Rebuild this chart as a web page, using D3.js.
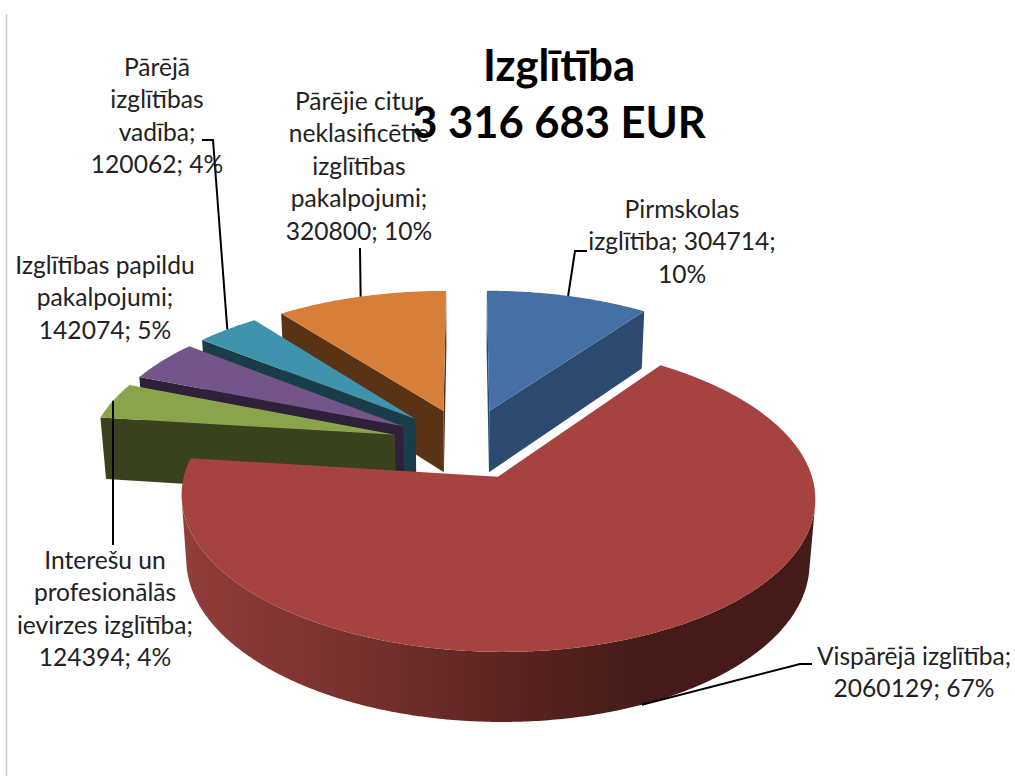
<!DOCTYPE html>
<html>
<head>
<meta charset="utf-8">
<script src="https://cdnjs.cloudflare.com/ajax/libs/d3/7.8.5/d3.min.js"></script>
<style>
  html, body { margin: 0; padding: 0; background: #fff; }
  svg { display: block; }
  text { font-family: Lato, "Open Sans", sans-serif; }
</style>
</head>
<body>
<div id="chart"></div>
<script>
// slices, clockwise from 12 o'clock
const categories = ['Pirmskolas izglītība', 'Vispārējā izglītība', 'Interešu un profesionālās ievirzes izglītība', 'Izglītības papildu pakalpojumi', 'Pārējā izglītības vadība', 'Pārējie citur neklasificētie izglītības pakalpojumi'];
const values = [304714, 2060129, 124394, 142074, 120062, 320800];
const labelLines = [
  ['Pirmskolas', 'izglītība; 304714;', '10%'],
  ['Vispārējā izglītība;', '2060129; 67%'],
  ['Interešu un', 'profesionālās', 'ievirzes izglītība;', '124394; 4%'],
  ['Izglītības papildu', 'pakalpojumi;', '142074; 5%'],
  ['Pārējā', 'izglītības', 'vadība;', '120062; 4%'],
  ['Pārējie citur', 'neklasificētie', 'izglītības', 'pakalpojumi;', '320800; 10%']
];
const titleLines = ['Izglītība', '3 316 683 EUR'];

const topColors = ['#4470a5', '#a64341', '#8aa44c', '#735589', '#3f93ac', '#d77e39'];
const sideColors = ['#2c4a70', '#431a18', '#3a421d', '#2d2038', '#1a3d4a', '#5a3216'];
const drawOrder = [5, 0, 4, 3, 2, 1];

// label placement: centre x, first baseline
const labelX = [682, 914, 105, 105, 157, 359];
const labelY = [218, 665, 569, 274, 76, 110];
const lineHeight = 32.4;
// leader elbows after the point on the rim
const leaderPts = [
  [[575, 251], [587, 251]],
  [[800, 664], [812, 664]],
  [[113, 545]],
  [],
  [[213, 140], [202, 140]],
  [[360, 248]]
];
// the vispārējā leader sits on the lower rim
const leaderOnBottom = [false, true, false, false, false, false];

const width = 1015, height = 776;
const cx = 467, cy = 443.5;
const radius = 305, explode = 75, thick = 72;
const tilt = Math.asin(0.47), focal = 2100;

// 3d point (x right, y towards viewer, z down) to screen
const project = (x, y, z)=>{
  let s = focal / (focal - y * Math.cos(tilt) + z * Math.sin(tilt));
  return [cx + x * s, cy + (y * Math.sin(tilt) + z * Math.cos(tilt)) * s];
};

const cross = (a, b, c)=> (b[0] - a[0]) * (c[1] - b[1]) - (b[1] - a[1]) * (c[0] - b[0]);

const svg = d3.select('#chart').append('svg')
  .attr('width', width)
  .attr('height', height);

// chart frame, only its left edge is in view
svg.append('line')
  .attr('x1', 6.5).attr('x2', 6.5)
  .attr('y1', 14).attr('y2', height)
  .attr('stroke', '#c9c9c9')
  .attr('stroke-width', 1.5);

// wall shading
const defs = svg.append('defs');
const wallGrad = defs.append('linearGradient')
  .attr('id', 'wall1')
  .attr('gradientUnits', 'userSpaceOnUse')
  .attr('x1', 190).attr('x2', 640)
  .attr('y1', 0).attr('y2', 0);
wallGrad.selectAll('stop')
  .data([[0, '#913d3a'], [0.47, '#6f2d2b'], [0.73, '#5b2321'], [1, '#441b19']])
  .join('stop')
  .attr('offset', d=>d[0])
  .attr('stop-color', d=>d[1]);

const arcs = d3.pie().sort(null).value(d=>d)(values);
const line = d3.line();

const drawSlice = (g, i)=>{
  let a = arcs[i];
  let mid = (a.startAngle + a.endAngle) / 2;
  let ox = explode * Math.sin(mid), oy = -explode * Math.cos(mid);
  let rim = (t, z)=> project(ox + radius * Math.sin(t), oy - radius * Math.cos(t), z);
  let apexTop = project(ox, oy, 0), apexBot = project(ox, oy, thick);

  let steps = Math.ceil((a.endAngle - a.startAngle) / 0.01);
  let angles = d3.range(steps + 1).map(k=> a.startAngle + (a.endAngle - a.startAngle) * k / steps);

  // outer wall, front facing part only
  let seen = angles.filter((t, k)=>{
    let n = k < steps ? angles[k + 1] : t;
    let p = k < steps ? t : angles[k - 1];
    return cross(rim(p, 0), rim(k < steps ? n : t, 0), rim(k < steps ? n : t, thick)) < 0;
  });
  if (seen.length > 1) {
    let wall = seen.map(t=> rim(t, 0)).concat(seen.slice().reverse().map(t=> rim(t, thick)));
    g.append('path')
      .attr('d', line(wall) + 'Z')
      .attr('fill', i === 1 ? 'url(#wall1)' : sideColors[i]);
  }

  // cut faces
  let s0 = rim(a.startAngle, 0), s1 = rim(a.startAngle, thick);
  if (cross(apexTop, s0, s1) < 0) {
    g.append('path')
      .attr('d', line([apexTop, s0, s1, apexBot]) + 'Z')
      .attr('fill', sideColors[i]);
  }
  let e0 = rim(a.endAngle, 0), e1 = rim(a.endAngle, thick);
  if (cross(apexTop, e0, e1) > 0) {
    g.append('path')
      .attr('d', line([apexTop, e0, e1, apexBot]) + 'Z')
      .attr('fill', sideColors[i]);
  }

  // top
  g.append('path')
    .attr('d', line([apexTop].concat(angles.map(t=> rim(t, 0)))) + 'Z')
    .attr('fill', topColors[i]);
};

const pieG = svg.append('g');
drawOrder.forEach(i=>{
  drawSlice(pieG.append('g').attr('class', 'slice').datum(categories[i]), i);
});

// leaders
const leaderG = svg.append('g');
arcs.forEach((a, i)=>{
  if (!leaderPts[i].length) return;
  let mid = (a.startAngle + a.endAngle) / 2;
  let ox = explode * Math.sin(mid), oy = -explode * Math.cos(mid);
  let start = project(ox + radius * Math.sin(mid), oy - radius * Math.cos(mid), leaderOnBottom[i] ? thick : 0);
  leaderG.append('path')
    .attr('d', line([start].concat(leaderPts[i])))
    .attr('fill', 'none')
    .attr('stroke', '#000')
    .attr('stroke-width', 2);
});

// data labels
const labelG = svg.append('g');
labelLines.forEach((lines, i)=>{
  labelG.append('text')
    .attr('text-anchor', 'middle')
    .attr('font-size', 24.6)
    .attr('fill', '#222')
    .selectAll('tspan')
    .data(lines)
    .join('tspan')
    .attr('x', labelX[i])
    .attr('y', (_, k)=> labelY[i] + k * lineHeight)
    .text(d=>d);
});

// title
svg.append('g').selectAll('text')
  .data(titleLines)
  .join('text')
  .attr('x', 559)
  .attr('y', (_, k)=> 81 + k * 57)
  .attr('text-anchor', 'middle')
  .attr('font-size', 43.5)
  .attr('font-weight', 700)
  .attr('fill', '#000')
  .text(d=>d);
</script>
</body>
</html>
